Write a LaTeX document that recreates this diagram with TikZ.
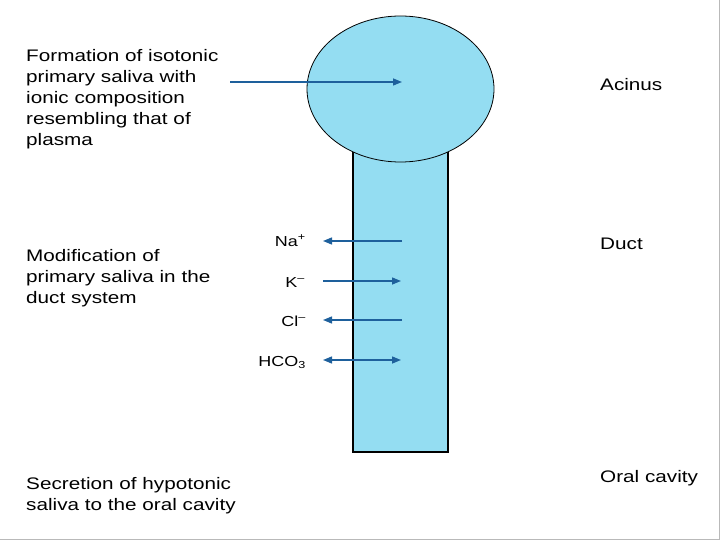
\documentclass[tikz,border=0pt]{standalone}
\usepackage{fontspec}
\setmainfont{Liberation Sans}[FakeStretch=1.24]
\usetikzlibrary{arrows.meta,shapes.geometric}
\definecolor{ductblue}{RGB}{148,221,242}
\definecolor{arrowblue}{RGB}{30,96,156}
\begin{document}
\begin{tikzpicture}[x=1pt,y=-1pt,
  lbl/.style={anchor=base west, inner sep=0pt, align=left, font=\fontsize{16.7}{21}\selectfont},
  ion/.style={anchor=base east, inner sep=0pt, font=\fontsize{14.5}{16}\selectfont},
  flow/.style={draw=arrowblue, line width=1.4pt, -{Triangle[length=9pt,width=7pt]}},
  flowboth/.style={draw=arrowblue, line width=1.4pt, {Triangle[length=9pt,width=7pt]}-{Triangle[length=9pt,width=7pt]}},
]
\useasboundingbox (0,0) rectangle (720,540);
\draw[gray!55, line width=1pt] (719.5,0) -- (719.5,539.5) -- (0,539.5);

% duct and acinus
\node[draw=black, line width=2.2pt, fill=ductblue, minimum width=95pt, minimum height=320pt,
      inner sep=0pt, anchor=south] (duct) at (400.5,453) {};
\node[ellipse, draw=black, line width=0.8pt, fill=ductblue, minimum width=187pt,
      minimum height=146pt, inner sep=0pt] (acinus) at (400.5,89) {};

% left texts (anchored at the baseline of their last line)
\node[lbl] (formation) at (26,146) {Formation of isotonic\\primary saliva with\\ionic composition\\resembling that of\\plasma};
\node[lbl] (modification) at (26,303) {Modification of\\primary saliva in the\\duct system};
\node[lbl] (secretion) at (26,510) {Secretion of hypotonic\\saliva to the oral cavity};

% right texts
\node[lbl] (lacinus) at (600,91) {Acinus};
\node[lbl] (lduct) at (600,249) {Duct};
\node[lbl] (loral) at (600,482) {Oral cavity};

% acinus arrow
\coordinate (aStart) at (230,82);
\coordinate (aEnd) at (402,82);
\draw[flow] (aStart) -- (aEnd);

% ion labels
\node[ion] (na) at (306,246) {Na\textsuperscript{+}};
\node[ion] (k) at (305,287) {K\textsuperscript{–}};
\node[ion] (cl) at (306,326) {Cl\textsuperscript{–}};
\node[ion] (hco) at (306,366) {HCO\textsubscript{3}};

% ion arrows
\coordinate (naIn) at (402,241);  \coordinate (naOut) at (323,241);
\coordinate (kIn) at (401,281);   \coordinate (kOut) at (323,281);
\coordinate (clIn) at (402,320);  \coordinate (clOut) at (323,320);
\coordinate (hIn) at (401,360);   \coordinate (hOut) at (323,360);
\draw[flow] (naIn) -- (naOut);
\draw[flow] (kOut) -- (kIn);
\draw[flow] (clIn) -- (clOut);
\draw[flowboth] (hOut) -- (hIn);
\end{tikzpicture}
\end{document}
